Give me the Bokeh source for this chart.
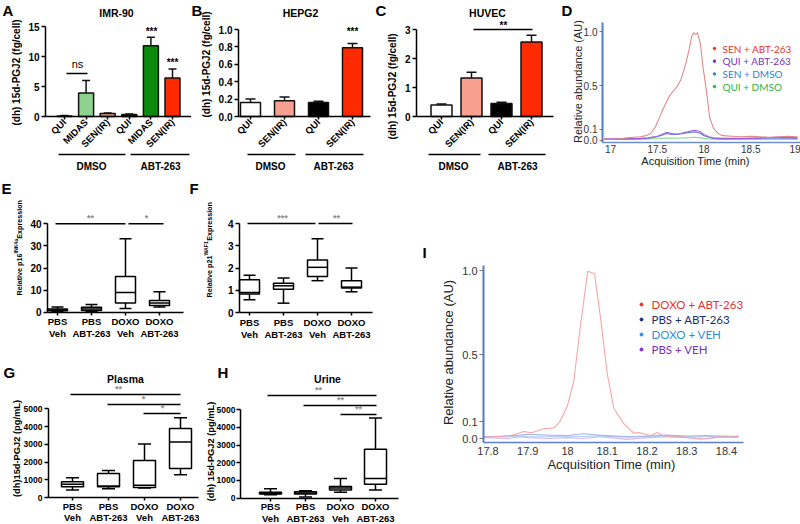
import math
from bokeh.plotting import figure
from bokeh.models import Range1d, LinearAxis, FixedTicker, NumeralTickFormatter
from bokeh.layouts import row, column
from bokeh.embed import file_html
from bokeh.resources import INLINE
from bokeh.core.properties import value

SANS = "Liberation Sans"
CAL = "Lato"

# ---------------- data ----------------
bar_ytitle = "(dh) 15d-PGJ2 (fg/cell)"
treat_groups = ["DMSO", "ABT-263"]

A_title = "IMR-90"
A_labels = ["QUI", "MIDAS", "SEN(IR)", "QUI", "MIDAS", "SEN(IR)"]
A_mean = [0.1, 3.9, 0.5, 0.35, 11.8, 6.4]
A_err = [0.05, 2.1, 0.08, 0.08, 1.4, 1.5]
A_color = ["#ffffff", "#8fd18f", "#f4a08f", "#000000", "#0b8a0b", "#ff2a00"]
A_yticks = [0, 5, 10, 15]

B_title = "HEPG2"
B_labels = ["QUI", "SEN(IR)", "QUI", "SEN(IR)"]
B_mean = [0.16, 0.18, 0.16, 0.79]
B_err = [0.04, 0.045, 0.015, 0.05]
B_color = ["#ffffff", "#f7a08f", "#000000", "#ff2a00"]
B_yticks = [0.0, 0.2, 0.4, 0.6, 0.8, 1.0]

C_title = "HUVEC"
C_labels = ["QUI", "SEN(IR)", "QUI", "SEN(IR)"]
C_mean = [0.40, 1.33, 0.45, 2.57]
C_err = [0.03, 0.20, 0.04, 0.23]
C_color = ["#ffffff", "#f7a08f", "#000000", "#ff2a00"]
C_yticks = [0, 1, 2, 3]

box_labels = ["PBS\nVeh", "PBS\nABT-263", "DOXO\nVeh", "DOXO\nABT-263"]

E_min = [0.3, 0.4, 1.7, 2.4]
E_q1 = [0.6, 0.8, 4.2, 3.0]
E_med = [1.0, 1.5, 8.9, 4.2]
E_q3 = [1.4, 2.2, 16.2, 5.3]
E_max = [2.3, 3.5, 33.2, 9.2]
E_yticks = [0, 10, 20, 30, 40]

F_min = [0.57, 0.42, 1.43, 0.93]
F_q1 = [0.83, 1.05, 1.62, 1.10]
F_med = [0.90, 1.20, 2.03, 1.14]
F_q3 = [1.47, 1.32, 2.36, 1.43]
F_max = [1.67, 1.55, 3.32, 2.00]
F_yticks = [0, 1, 2, 3, 4]

G_title = "Plasma"
G_min = [420, 500, 540, 1280]
G_q1 = [610, 610, 560, 1630]
G_med = [740, 650, 690, 3130]
G_q3 = [890, 1350, 2090, 3890]
G_max = [1110, 1520, 3020, 4500]

H_title = "Urine"
H_min = [180, 50, 320, 450]
H_q1 = [220, 220, 450, 780]
H_med = [260, 280, 560, 1100]
H_q3 = [320, 350, 650, 2770]
H_max = [520, 410, 1110, 4530]
GH_yticks = [0, 1000, 2000, 3000, 4000, 5000]

# chromatogram D
D_series = ["SEN + ABT-263", "QUI + ABT-263", "SEN + DMSO", "QUI + DMSO"]
D_legend_colors = ["#e8322e", "#7b2fbf", "#2f7fd6", "#2db24a"]
D_line_colors = ["#e08a8a", "#a060d8", "#6b7ff0", "#90dc90"]
D_red_t = [16.93, 17.0, 17.1, 17.18, 17.25, 17.32, 17.38, 17.43, 17.48, 17.53, 17.57, 17.62, 17.66,
           17.71, 17.75, 17.78, 17.81, 17.84, 17.87, 17.89, 17.91, 17.93, 17.96, 17.99, 18.03, 18.06,
           18.1, 18.15, 18.2, 18.3, 18.4, 18.5, 18.6, 18.7, 18.8, 18.9, 19.0]
D_red_y = [0.01, 0.005, 0.01, 0.02, 0.025, 0.03, 0.04, 0.06, 0.12, 0.22, 0.30, 0.39, 0.44,
           0.49, 0.55, 0.63, 0.72, 0.83, 0.96, 0.99, 0.97, 0.99, 0.89, 0.67, 0.43, 0.21,
           0.11, 0.06, 0.04, 0.035, 0.03, 0.035, 0.03, 0.025, 0.03, 0.035, 0.03]
D_low_t = [16.93, 17.1, 17.3, 17.4, 17.5, 17.55, 17.6, 17.65, 17.7, 17.75, 17.8, 17.85, 17.9,
           17.95, 18.0, 18.05, 18.1, 18.2, 18.4, 18.6, 18.8, 19.0]
D_purple_y = [0.01, 0.01, 0.015, 0.02, 0.035, 0.05, 0.07, 0.06, 0.055, 0.06, 0.07, 0.08, 0.09,
              0.08, 0.05, 0.03, 0.02, 0.015, 0.015, 0.02, 0.025, 0.02]
D_blue_y = [0.005, 0.008, 0.01, 0.015, 0.03, 0.045, 0.06, 0.052, 0.05, 0.055, 0.062, 0.07, 0.075,
            0.065, 0.04, 0.025, 0.015, 0.01, 0.012, 0.015, 0.02, 0.015]
D_green_y = [0.005, 0.005, 0.008, 0.01, 0.012, 0.015, 0.018, 0.017, 0.016, 0.018, 0.02, 0.022, 0.025,
             0.022, 0.015, 0.01, 0.008, 0.006, 0.005, 0.006, 0.006, 0.005]
D_xticks = [17, 17.5, 18, 18.5, 19]
D_yticks = [0.0, 0.1, 0.5, 1.0]

# chromatogram I
I_series = ["DOXO + ABT-263", "PBS + ABT-263", "DOXO + VEH", "PBS + VEH"]
I_legend_colors = ["#e8322e", "#1f2d6b", "#2f8fdc", "#7b2fbf"]
I_line_colors = ["#f8a6a6", "#aab4ea", "#a8cdf0", "#d4b8ee"]
I_red_t = [17.79, 17.82, 17.857, 17.875, 17.89, 17.91, 17.94, 17.966, 17.98, 18.0, 18.016, 18.033,
           18.051, 18.068, 18.083, 18.1, 18.117, 18.142, 18.167, 18.18, 18.209, 18.226, 18.243,
           18.293, 18.335, 18.377, 18.42, 18.43]
I_red_y = [0.008, 0.01, 0.018, 0.03, 0.042, 0.034, 0.058, 0.063, 0.097, 0.196, 0.345, 0.68,
           0.996, 0.98, 0.72, 0.385, 0.177, 0.087, 0.032, 0.036, 0.018, 0.036, 0.012,
           0.008, -0.004, 0.008, 0.008, 0.018]
I_low_t = [17.79, 17.85, 17.88, 17.9, 17.95, 18.0, 18.04, 18.08, 18.15, 18.2, 18.25, 18.3, 18.35, 18.4, 18.43]
I_navy_y = [0.01, 0.015, 0.02, 0.025, 0.02, 0.018, 0.028, 0.02, 0.01, 0.015, 0.02, 0.015, 0.018, 0.012, 0.01]
I_blue_y = [0.012, 0.01, 0.015, 0.012, 0.01, 0.015, 0.012, 0.015, 0.008, 0.012, 0.015, 0.01, 0.012, 0.015, 0.012]
I_purple_y = [0.005, 0.0, 0.01, 0.005, 0.0, 0.005, 0.0, 0.01, -0.005, 0.005, 0.01, 0.005, 0.0, 0.01, 0.005]
I_xticks = [17.8, 17.9, 18.0, 18.1, 18.2, 18.3, 18.4]
I_yticks = [0.0, 0.1, 0.5, 1.0]


# ---------------- helpers ----------------
class Panel:
    """A figure whose frame fills it; page-pixel positions map to data values."""

    def __init__(self, x0, y0, x1, y1, xmap, ymap):
        self.ax, self.av, bx, bv = xmap
        self.kx = (bv - self.av) / (bx - self.ax)
        self.ay, self.avy, by, bvy = ymap
        self.ky = (bvy - self.avy) / (by - self.ay)
        p = figure(width=x1 - x0, height=y1 - y0,
                   x_range=Range1d(self.X(x0), self.X(x1)),
                   y_range=Range1d(self.Y(y1), self.Y(y0)),
                   output_backend="svg", toolbar_location=None,
                   x_axis_location=None, y_axis_location=None,
                   min_border=0, title=None)
        p.outline_line_color = None
        p.grid.visible = False
        p.background_fill_color = "white"
        p.border_fill_color = "white"
        self.p = p

    def X(self, px):
        return self.av + (px - self.ax) * self.kx

    def Y(self, py):
        return self.avy + (py - self.ay) * self.ky

    def dx(self, n):
        return abs(n * self.kx)

    def text(self, px, py, s, size, color="black", bold=False, align="center",
             baseline="middle", angle=0.0, font=SANS):
        self.p.text(x=[self.X(px)], y=[self.Y(py)], text=[s], text_font=value(font),
                    text_font_size=size, text_font_style="bold" if bold else "normal",
                    text_color=color, text_align=align, text_baseline=baseline, angle=angle)

    def line(self, xa, ya, xb, yb, color="black", width=1.5):
        self.p.segment(x0=[self.X(xa)], y0=[self.Y(ya)], x1=[self.X(xb)], y1=[self.Y(yb)],
                       line_color=color, line_width=width)


def axis(P, side, loc_px, b0, b1, ticks, size, bold=True, line_color="black", lw=1.5,
         tick_color=None, label_color="black", tick_out=4, standoff=2, fmt=None,
         labels=None, orient=None, font=SANS, line_height=1.2):
    ax = LinearAxis(ticker=FixedTicker(ticks=ticks))
    if side == "left":
        ax.fixed_location = P.X(loc_px)
        ax.bounds = (P.Y(b1), P.Y(b0))
    else:
        ax.fixed_location = P.Y(loc_px)
        ax.bounds = (P.X(b0), P.X(b1))
    ax.axis_line_color = line_color
    ax.axis_line_width = lw
    ax.major_tick_line_color = tick_color or line_color
    ax.major_tick_line_width = 1.5 if tick_color is None else 1
    ax.major_tick_out = tick_out
    ax.major_tick_in = 0
    ax.minor_tick_line_color = None
    ax.major_label_text_font = font
    ax.major_label_text_font_size = size
    ax.major_label_text_font_style = "bold" if bold else "normal"
    ax.major_label_text_color = label_color
    ax.major_label_text_line_height = line_height
    ax.major_label_standoff = standoff
    if fmt is not None:
        ax.formatter = NumeralTickFormatter(format=fmt)
    if labels is not None:
        ax.major_label_overrides = {i: lab for i, lab in enumerate(labels)}
    if orient is not None:
        ax.major_label_orientation = orient
    P.p.add_layout(ax, side)
    return ax


def bars(P, means, errs, colors, bw, cw):
    xs = list(range(len(means)))
    tops = [m + e for m, e in zip(means, errs)]
    P.p.segment(x0=xs, y0=means, x1=xs, y1=tops, line_color="#111111", line_width=1.5)
    P.p.segment(x0=[x - P.dx(cw) / 2 for x in xs], y0=tops,
                x1=[x + P.dx(cw) / 2 for x in xs], y1=tops, line_color="#111111", line_width=1.5)
    P.p.vbar(x=xs, width=P.dx(bw), bottom=0, top=means, fill_color=colors,
             line_color="#111111", line_width=1.5)


def boxes(P, mn, q1, med, q3, mx, bw, cw):
    xs = list(range(len(mn)))
    hb = P.dx(bw) / 2
    hc = P.dx(cw) / 2
    P.p.segment(x0=xs, y0=q3, x1=xs, y1=mx, line_color="black", line_width=1.5)
    P.p.segment(x0=xs, y0=mn, x1=xs, y1=q1, line_color="black", line_width=1.5)
    P.p.segment(x0=[x - hc for x in xs], y0=mx, x1=[x + hc for x in xs], y1=mx,
                line_color="black", line_width=1.5)
    P.p.segment(x0=[x - hc for x in xs], y0=mn, x1=[x + hc for x in xs], y1=mn,
                line_color="black", line_width=1.5)
    P.p.vbar(x=xs, width=2 * hb, bottom=q1, top=q3, fill_color="white",
             line_color="black", line_width=1.5)
    P.p.segment(x0=[x - hb for x in xs], y0=med, x1=[x + hb for x in xs], y1=med,
                line_color="black", line_width=1.5)


ROT = math.pi / 2

# ---------------- A ----------------
A = Panel(0, 0, 191, 178, (64, 0, 172, 5), (26, 15, 116, 0))
bars(A, A_mean, A_err, A_color, 15, 8)
axis(A, "left", 45, 26, 116, A_yticks, "10px")
axis(A, "below", 116, 45, 191, list(range(6)), "9.5px", labels=A_labels, orient=math.pi / 4,
     tick_out=3, standoff=1)
A.text(2, 10, "A", "15px", bold=True, align="left")
A.text(116, 12, A_title, "10.5px", bold=True)
A.text(16, 72, bar_ytitle, "10px", bold=True, angle=ROT)
A.line(66, 73, 87, 73)
A.text(77, 63, "ns", "11px")
A.text(151, 31, "***", "10px", bold=True)
A.text(172, 62, "***", "10px", bold=True)
A.line(58, 154, 125, 154)
A.line(130, 154, 189, 154)
A.text(91, 166, treat_groups[0], "10px", bold=True)
A.text(160, 166, treat_groups[1], "10px", bold=True)

# ---------------- B ----------------
B = Panel(191, 0, 372, 178, (250, 0, 352, 3), (29, 1.0, 116, 0))
bars(B, B_mean, B_err, B_color, 20, 10)
axis(B, "left", 238, 29, 116, B_yticks, "10px", fmt="0.0")
axis(B, "below", 116, 238, 370, list(range(4)), "9.5px", labels=B_labels, orient=math.pi / 4,
     tick_out=3, standoff=1)
B.text(191, 10, "B", "15px", bold=True, align="left")
B.text(300, 12, B_title, "10.5px", bold=True)
B.text(206, 64, bar_ytitle, "10px", bold=True, angle=ROT)
B.text(352, 31, "***", "10px", bold=True)
B.line(247, 154, 295, 154)
B.line(305, 154, 363, 154)
B.text(270, 166, treat_groups[0], "10px", bold=True)
B.text(333, 166, treat_groups[1], "10px", bold=True)

# ---------------- C ----------------
C = Panel(372, 0, 558, 178, (441, 0, 531, 3), (29, 3, 116, 0))
bars(C, C_mean, C_err, C_color, 21, 10)
axis(C, "left", 416, 29, 116, C_yticks, "10px")
axis(C, "below", 116, 416, 553, list(range(4)), "9.5px", labels=C_labels, orient=math.pi / 4,
     tick_out=3, standoff=1)
C.text(375, 10, "C", "15px", bold=True, align="left")
C.text(487, 12, C_title, "10.5px", bold=True)
C.text(392, 86, bar_ytitle, "10px", bold=True, angle=ROT)
C.line(473, 29, 532, 29)
C.text(503, 25, "**", "10px", bold=True)
C.line(428, 154, 480, 154)
C.line(488, 154, 545, 154)
C.text(453, 166, treat_groups[0], "10px", bold=True)
C.text(517, 166, treat_groups[1], "10px", bold=True)

# ---------------- D ----------------
D = Panel(558, 0, 800, 178, (610, 17, 797, 19), (31, 1.0, 139.5, 0.0))
for tt, yv, col in [(D_low_t, D_green_y, D_line_colors[3]), (D_low_t, D_blue_y, D_line_colors[2]),
                    (D_low_t, D_purple_y, D_line_colors[1]), (D_red_t, D_red_y, D_line_colors[0])]:
    D.p.line(x=tt, y=yv, line_color=col, line_width=1.1)
axis(D, "left", 602, 22, 141.5, D_yticks, "10px", bold=False, line_color="#4f7fc8", lw=2,
     tick_color="#777777", label_color="#333333", tick_out=3, standoff=2, fmt="0.0")
axis(D, "below", 141.5, 602, 800, D_xticks, "10px", bold=False, line_color="#6d8fcc", lw=1.5,
     tick_color="#6d8fcc", label_color="#333333", tick_out=0, standoff=3, fmt="0.[0]")
D.text(561, 10, "D", "15px", bold=True, align="left")
D.text(577, 81, "Relative abundance (AU)", "11px", color="#222222", angle=ROT)
D.text(695, 160, "Acquisition Time (min)", "11px", color="#222222")
for k, (name, col) in enumerate(zip(D_series, D_legend_colors)):
    yy = 48 + 12.7 * k
    D.p.scatter(x=[D.X(714)], y=[D.Y(yy)], size=2.5, color=col)
    D.text(722, yy, name, "10px", color=col, align="left", font=CAL)

# ---------------- E ----------------
E = Panel(0, 178, 199, 362, (57, 0, 159, 3), (223.3, 40, 311.7, 0))
boxes(E, E_min, E_q1, E_med, E_q3, E_max, 20, 12)
axis(E, "left", 47, 223.3, 311.7, E_yticks, "10px")
axis(E, "below", 311.7, 47, 183, list(range(4)), "9.5px", labels=box_labels, tick_out=3,
     standoff=1, line_height=1.1)
E.text(1, 188, "E", "15px", bold=True, align="left")
E.text(189, 188, "F", "15px", bold=True, align="left")
E.text(19, 295, "Relative p16", "7.2px", bold=True, align="left", baseline="alphabetic", angle=ROT)
E.text(15.5, 253, "INK4a", "5.2px", bold=True, align="left", baseline="alphabetic", angle=ROT)
E.text(19, 238.3, " Expression", "7.2px", bold=True, align="left", baseline="alphabetic", angle=ROT)
E.line(55, 223.3, 125, 223.3)
E.line(128, 223.3, 163, 223.3)
E.text(90, 217, "**", "9px", color="#8c8c8c", bold=True)
E.text(146, 217, "*", "9px", color="#8c8c8c", bold=True)

# ---------------- F ----------------
F = Panel(199, 178, 400, 362, (249, 0, 351, 3), (223, 4, 312, 0))
boxes(F, F_min, F_q1, F_med, F_q3, F_max, 20, 12)
axis(F, "left", 239, 223, 312, F_yticks, "10px")
axis(F, "below", 312, 239, 372, list(range(4)), "9.5px", labels=box_labels, tick_out=3,
     standoff=1, line_height=1.1)
F.text(209, 297, "Relative p21", "7.2px", bold=True, align="left", baseline="alphabetic", angle=ROT)
F.text(205.5, 255, "WAF1", "5.2px", bold=True, align="left", baseline="alphabetic", angle=ROT)
F.text(209, 240.3, " Expression", "7.2px", bold=True, align="left", baseline="alphabetic", angle=ROT)
F.line(247, 223, 315, 223)
F.line(318, 223, 352, 223)
F.text(282, 217, "***", "9px", color="#8c8c8c", bold=True)
F.text(336, 217, "**", "9px", color="#8c8c8c", bold=True)

# ---------------- G ----------------
G = Panel(0, 362, 199, 524, (72, 0, 180, 3), (408.3, 5000, 497, 0))
boxes(G, G_min, G_q1, G_med, G_q3, G_max, 22, 13)
axis(G, "left", 48, 408.3, 497, GH_yticks, "8.5px")
axis(G, "below", 497, 48, 198, list(range(4)), "9.5px", labels=box_labels, tick_out=3,
     standoff=0, line_height=1.05)
G.text(3, 372, "G", "15px", bold=True, align="left")
G.text(125, 378, G_title, "10.5px", bold=True)
G.text(16, 448, "(dh)15d-PGJ2 (pg/mL)", "9.3px", bold=True, angle=ROT)
G.line(70, 394, 180, 394)
G.line(107, 404, 180, 404)
G.line(143, 413, 180, 413)
G.text(118, 388, "**", "9px", color="#8c8c8c", bold=True)
G.text(143, 398, "*", "9px", color="#8c8c8c", bold=True)
G.text(162, 407, "*", "9px", color="#8c8c8c", bold=True)

# ---------------- H ----------------
H = Panel(199, 362, 400, 524, (270, 0, 375, 3), (409.3, 5000, 497.5, 0))
boxes(H, H_min, H_q1, H_med, H_q3, H_max, 22, 13)
axis(H, "left", 240, 409.3, 497.5, GH_yticks, "8.5px", standoff=1)
axis(H, "below", 497.5, 240, 398, list(range(4)), "9.5px", labels=box_labels, tick_out=3,
     standoff=0, line_height=1.05)
H.text(217, 372, "H", "15px", bold=True, align="left")
H.text(327, 378, H_title, "10.5px", bold=True)
H.text(210, 451, "(dh) 15d-PGJ2 (pg/mL)", "9.3px", bold=True, angle=ROT)
H.line(267, 395, 376, 395)
H.line(303, 405, 376, 405)
H.line(340, 414, 376, 414)
H.text(318, 389, "**", "9px", color="#8c8c8c", bold=True)
H.text(340, 399, "**", "9px", color="#8c8c8c", bold=True)
H.text(358, 408, "**", "9px", color="#8c8c8c", bold=True)

# ---------------- I ----------------
I = Panel(400, 178, 800, 524, (487.5, 17.8, 726, 18.4), (270, 1.0, 438, 0.0))
I.p.line(x=I_low_t, y=I_purple_y, line_color=I_line_colors[3], line_width=1.1)
I.p.line(x=I_low_t, y=I_blue_y, line_color=I_line_colors[2], line_width=1.1)
I.p.line(x=I_low_t, y=I_navy_y, line_color=I_line_colors[1], line_width=1.1)
I.p.line(x=I_red_t, y=I_red_y, line_color=I_line_colors[0], line_width=1.1)
axis(I, "left", 483, 265, 442, I_yticks, "11px", bold=False, line_color="#4f7fc8", lw=2,
     tick_color="#777777", label_color="#333333", tick_out=4, standoff=2, fmt="0.0")
axis(I, "below", 442, 483, 743, I_xticks, "11px", bold=False, line_color="#5b7fc8", lw=1.5,
     tick_color="#5b7fc8", label_color="#333333", tick_out=0, standoff=4, fmt="0.[0]")
I.text(422, 252, "I", "15px", bold=True, align="left")
I.text(448, 352, "Relative abundance (AU)", "13px", color="#222222", angle=ROT)
I.text(611, 464, "Acquisition Time (min)", "13px", color="#222222")
for k, (name, col) in enumerate(zip(I_series, I_legend_colors)):
    yy = 304 + 15 * k
    I.p.scatter(x=[I.X(641)], y=[I.Y(yy)], size=3, color=col)
    I.text(651, yy, name, "11.5px", color=col, align="left", font=CAL)

layout = column(
    row(A.p, B.p, C.p, D.p),
    row(column(E.p, G.p), column(F.p, H.p), I.p),
)

open("out.html", "w").write(file_html(layout, INLINE))
